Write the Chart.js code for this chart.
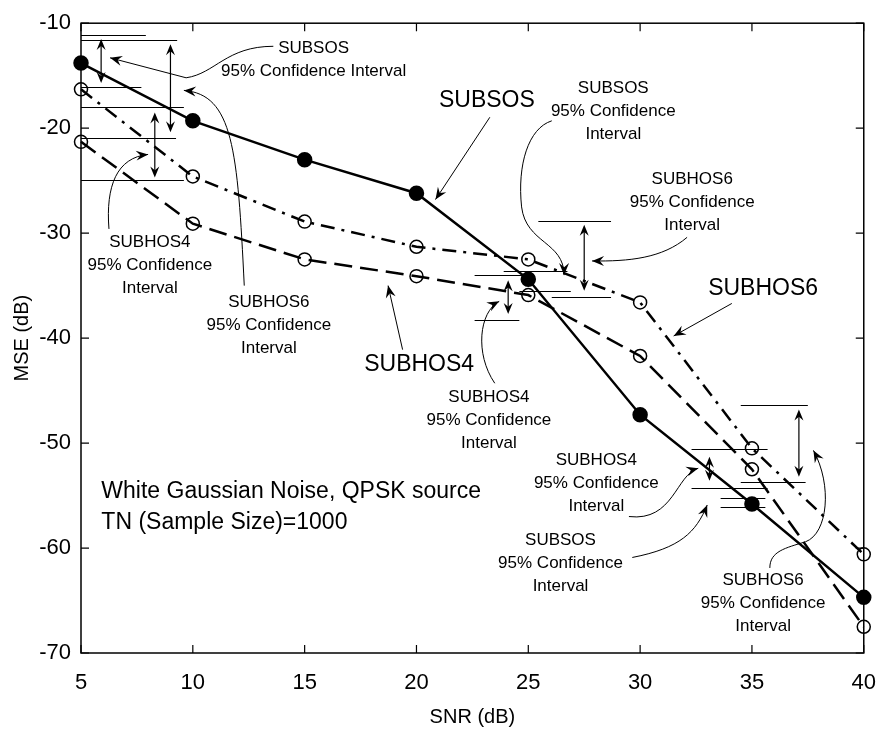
<!DOCTYPE html>
<html>
<head>
<meta charset="utf-8">
<title>MSE vs SNR</title>
<script src="https://cdn.jsdelivr.net/npm/chart.js@4.4.1/dist/chart.umd.min.js"></script>
<style>
  html, body { margin: 0; padding: 0; background: #fff; }
  #wrap { width: 893px; height: 741px; }
</style>
</head>
<body>
<div id="wrap"><canvas id="chart" width="893" height="741"></canvas></div>
<script>
// ── Data ────────────────────────────────────────────────────
const snr     = [5, 10, 15, 20, 25, 30, 35, 40];
const subsos  = [-13.8, -19.3, -23.0, -26.2, -34.4, -47.3, -55.8, -64.7];
const subhos6 = [-16.3, -24.6, -28.9, -31.3, -32.5, -36.6, -50.5, -60.6];
const subhos4 = [-21.3, -29.1, -32.5, -34.1, -35.9, -41.7, -52.5, -67.5];

const xTicks = [5, 10, 15, 20, 25, 30, 35, 40];
const yTicks = [-70, -60, -50, -40, -30, -20, -10];

// ── Annotations (data units) ────────────────────────────────
// confidence interval bars: [xFrom, xTo, y]
const ciLines = [
  [5, 7.9, -11.1], [5, 9.3, -11.6], [5, 7.7, -16.1],
  [5, 9.6, -18.0], [5, 9.25, -20.9], [5, 9.6, -24.9],
  [23.9, 26.75, -33.6], [22.6, 24.75, -34.0], [24.6, 26.9, -35.55],
  [22.6, 24.6, -38.3], [25.45, 28.7, -28.8], [26.05, 28.7, -36.1],
  [34.5, 37.5, -46.4], [32.3, 35.7, -50.6], [34.5, 37.4, -53.7],
  [32.3, 35.7, -54.3], [33.6, 35.6, -55.2], [33.6, 35.6, -56.1]
];
// double headed vertical arrows: [x, yTop, yBottom]
const ciArrows = [
  [5.9, -11.5, -15.7], [9.0, -12.0, -20.4], [8.3, -18.5, -24.7],
  [24.1, -34.5, -37.7], [27.5, -29.2, -35.5],
  [37.1, -46.8, -53.2], [33.1, -51.3, -53.6]
];
// pointer paths: first [x,y], then [x,y] = line, [c1x,c1y,c2x,c2y,x,y] = curve
const pointers = [
  [[13.6, -12.2], [11.5, -12.2, 11.0, -14.8, 9.7, -15.2], [6.3, -13.3]],
  [[12.3, -35.0], [12.0, -22.0, 11.8, -16.8, 9.6, -16.4]],
  [[6.25, -29.6], [6.1, -25.5, 6.6, -22.8, 8.0, -22.5]],
  [[23.28, -18.96], [20.85, -26.8]],
  [[19.38, -41.1], [18.73, -35.0]],
  [[34.1, -36.7], [31.5, -39.8]],
  [[26.05, -19.3], [25.0, -20.0, 24.5, -23.5, 24.7, -27.5], [24.9, -31.0, 26.6, -30.8, 26.6, -34.0]],
  [[32.1, -30.4], [31.0, -32.4, 29.5, -32.7, 27.85, -32.65]],
  [[23.5, -44.3], [22.6, -41.5, 22.8, -37.5, 23.7, -36.5]],
  [[29.5, -57.0], [31.5, -57.5, 31.6, -53.0, 32.6, -52.4]],
  [[29.65, -60.9], [31.8, -60.0, 32.5, -58.5, 33.0, -55.9]],
  [[35.8, -61.9], [35.8, -60.3, 36.5, -60.0, 37.4, -59.4], [38.4, -58.6, 38.6, -54.0, 37.75, -50.7]]
];
const ciText = 'SUBSOS|SUBHOS4|SUBHOS6';
// small labels: [text, x, y]
const notes = [
  ['SUBSOS\n95% Confidence Interval', 15.4, -12.36],
  ['SUBHOS4\n95% Confidence\nInterval', 8.08, -30.85],
  ['SUBHOS6\n95% Confidence\nInterval', 13.4, -36.6],
  ['SUBSOS\n95% Confidence\nInterval', 28.8, -16.2],
  ['SUBHOS6\n95% Confidence\nInterval', 32.33, -24.9],
  ['SUBHOS4\n95% Confidence\nInterval', 23.24, -45.65],
  ['SUBHOS4\n95% Confidence\nInterval', 28.04, -51.6],
  ['SUBSOS\n95% Confidence\nInterval', 26.44, -59.3],
  ['SUBHOS6\n95% Confidence\nInterval', 35.5, -63.1]
];
// series name labels: [text, x, y]
const names = [
  ['SUBSOS', 23.15, -17.4],
  ['SUBHOS4', 20.12, -42.5],
  ['SUBHOS6', 35.5, -35.3]
];
const infoText = ['White Gaussian Noise, QPSK source', 'TN (Sample Size)=1000'];
const infoAt = [5.91, -54.6];

const FONT = "'Liberation Sans', Arial, Helvetica, sans-serif";

// ── Helpers ─────────────────────────────────────────────────
function arrowHead(ctx, x, y, ang, len = 11, half = 4.5) {
  const c = Math.cos(ang), s = Math.sin(ang);
  ctx.beginPath();
  ctx.moveTo(x, y);
  ctx.lineTo(x - len * c - half * s, y - len * s + half * c);
  ctx.lineTo(x - len * 0.65 * c, y - len * 0.65 * s);
  ctx.lineTo(x - len * c + half * s, y - len * s - half * c);
  ctx.closePath();
  ctx.fill();
}

const annotate = {
  id: 'annotate',
  beforeDraw(chart) {
    const { ctx } = chart;
    ctx.save();
    ctx.fillStyle = '#fff';
    ctx.fillRect(0, 0, chart.width, chart.height);
    ctx.restore();
  },
  afterDatasetsDraw(chart) {
    const { ctx, chartArea: a } = chart;
    const xs = chart.scales.x, ys = chart.scales.y;
    const px = v => xs.getPixelForValue(v);
    const py = v => ys.getPixelForValue(v);
    ctx.save();
    ctx.strokeStyle = '#000';
    ctx.fillStyle = '#000';

    // frame + inward ticks
    ctx.lineWidth = 1.5;
    ctx.strokeRect(a.left, a.top, a.right - a.left, a.bottom - a.top);
    ctx.lineWidth = 1.2;
    ctx.beginPath();
    xTicks.forEach(v => {
      const x = px(v);
      ctx.moveTo(x, a.bottom); ctx.lineTo(x, a.bottom - 8);
      ctx.moveTo(x, a.top); ctx.lineTo(x, a.top + 8);
    });
    yTicks.forEach(v => {
      const y = py(v);
      ctx.moveTo(a.left, y); ctx.lineTo(a.left + 8, y);
      ctx.moveTo(a.right, y); ctx.lineTo(a.right - 8, y);
    });
    ctx.stroke();

    // confidence interval bars
    ctx.lineWidth = 1;
    ctx.beginPath();
    ciLines.forEach(([x1, x2, y]) => {
      const yy = Math.round(py(y)) + 0.5;
      ctx.moveTo(px(x1), yy); ctx.lineTo(px(x2), yy);
    });
    ctx.stroke();

    // double arrows
    ctx.lineWidth = 1.2;
    ciArrows.forEach(([x, y1, y2]) => {
      const xx = px(x), a1 = py(y1), a2 = py(y2);
      ctx.beginPath();
      ctx.moveTo(xx, a1 + 6); ctx.lineTo(xx, a2 - 6);
      ctx.stroke();
      arrowHead(ctx, xx, a1, -Math.PI / 2);
      arrowHead(ctx, xx, a2, Math.PI / 2);
    });

    // pointers
    ctx.lineWidth = 1;
    pointers.forEach(path => {
      ctx.beginPath();
      let prev = [px(path[0][0]), py(path[0][1])];
      let last = prev;
      ctx.moveTo(prev[0], prev[1]);
      for (let i = 1; i < path.length; i++) {
        const p = path[i];
        if (p.length === 2) {
          prev = last;
          last = [px(p[0]), py(p[1])];
          ctx.lineTo(last[0], last[1]);
        } else {
          prev = [px(p[2]), py(p[3])];
          last = [px(p[4]), py(p[5])];
          ctx.bezierCurveTo(px(p[0]), py(p[1]), prev[0], prev[1], last[0], last[1]);
        }
      }
      ctx.stroke();
      arrowHead(ctx, last[0], last[1], Math.atan2(last[1] - prev[1], last[0] - prev[0]), 12, 5);
    });

    // texts
    ctx.textAlign = 'center';
    ctx.textBaseline = 'middle';
    ctx.font = '17px ' + FONT;
    notes.forEach(([t, x, y]) => {
      t.split('\n').forEach((line, i) => ctx.fillText(line, px(x), py(y) + i * 23));
    });
    ctx.font = '23px ' + FONT;
    names.forEach(([t, x, y]) => ctx.fillText(t, px(x), py(y)));
    ctx.textAlign = 'left';
    infoText.forEach((t, i) => ctx.fillText(t, px(infoAt[0]), py(infoAt[1]) + i * 31));
    ctx.restore();
  }
};

const toXY = ys => snr.map((x, i) => ({ x, y: ys[i] }));

new Chart(document.getElementById('chart'), {
  type: 'line',
  data: {
    datasets: [
      {
        label: 'SUBSOS', data: toXY(subsos),
        borderColor: '#000', borderWidth: 2.5, borderDash: [],
        pointRadius: 6.5, pointBackgroundColor: '#000', pointBorderColor: '#000',
        clip: false
      },
      {
        label: 'SUBHOS6', data: toXY(subhos6),
        borderColor: '#000', borderWidth: 2.5, borderDash: [14, 7, 3, 7],
        pointRadius: 6.5, pointBackgroundColor: 'rgba(0,0,0,0)', pointBorderColor: '#000',
        pointBorderWidth: 1.5, clip: false
      },
      {
        label: 'SUBHOS4', data: toXY(subhos4),
        borderColor: '#000', borderWidth: 2.5, borderDash: [18, 8],
        pointRadius: 6.5, pointBackgroundColor: 'rgba(0,0,0,0)', pointBorderColor: '#000',
        pointBorderWidth: 1.5, clip: false
      }
    ]
  },
  options: {
    responsive: false,
    animation: false,
    devicePixelRatio: 1,
    layout: { autoPadding: false, padding: { left: 0, top: 17, right: 4, bottom: 0 } },
    plugins: { legend: { display: false }, tooltip: { enabled: false } },
    scales: {
      x: {
        type: 'linear', min: 5, max: 40,
        afterBuildTicks: s => { s.ticks = xTicks.map(v => ({ value: v })); },
        afterFit: s => { s.height = 88; },
        grid: { display: false, drawTicks: false },
        border: { display: false },
        ticks: { color: '#000', padding: 17, maxRotation: 0, font: { family: FONT, size: 22 } },
        title: { display: true, text: 'SNR (dB)', color: '#000', padding: { top: 0, bottom: 12 },
                 font: { family: FONT, size: 20 } }
      },
      y: {
        type: 'linear', min: -70, max: -10,
        afterBuildTicks: s => { s.ticks = yTicks.map(v => ({ value: v })); },
        afterFit: s => { s.width = 81; },
        grid: { display: false, drawTicks: false },
        border: { display: false },
        ticks: { color: '#000', padding: 10, font: { family: FONT, size: 22 } },
        title: { display: true, text: 'MSE (dB)', color: '#000', padding: { top: 10, bottom: 0 },
                 font: { family: FONT, size: 20 } }
      }
    }
  },
  plugins: [annotate]
});
</script>
</body>
</html>
